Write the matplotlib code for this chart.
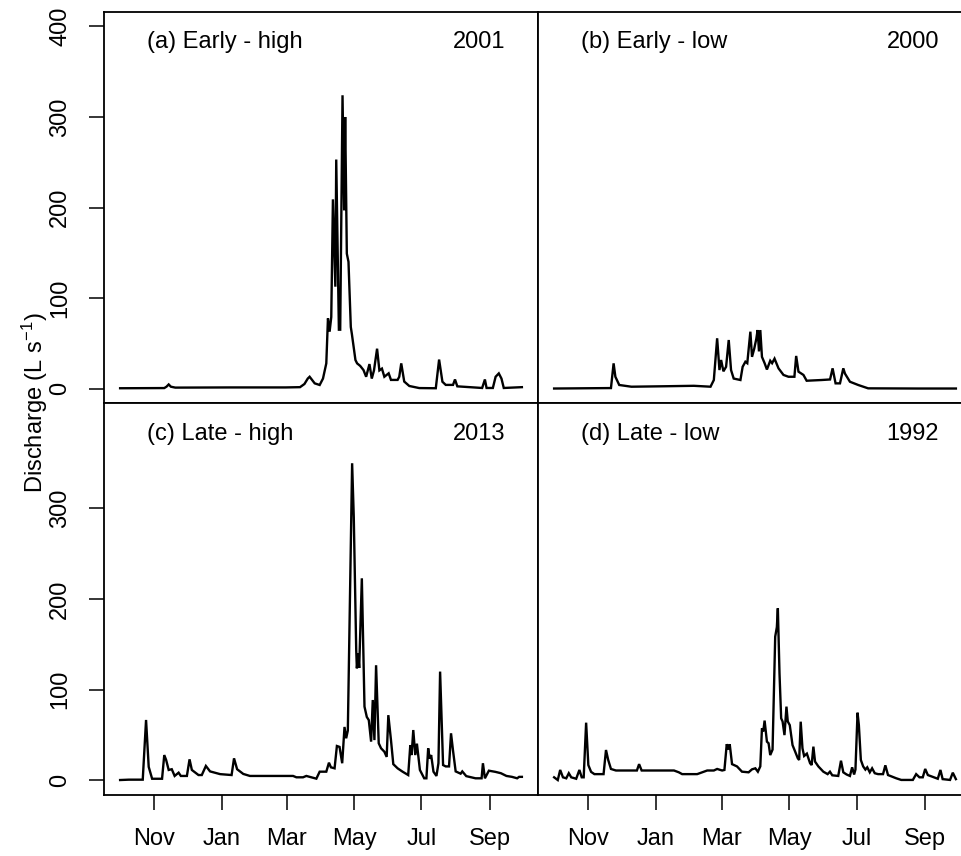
import numpy as np
import matplotlib.pyplot as plt
from datetime import date

plt.rcParams['font.family'] = 'Liberation Sans'
plt.rcParams['mathtext.fontset'] = 'custom'
plt.rcParams['mathtext.rm'] = 'Liberation Sans'
plt.rcParams['mathtext.it'] = 'Liberation Sans'

# daily discharge, x = days since 1 Oct of the water year
days_a = [0, 40, 42, 44, 46, 50, 100, 150, 163, 167, 170, 171.7, 176.3, 180.8, 183.8, 186.8, 188.3, 189.8, 191.3, 192.8,
          195.0, 195.8, 198.2, 199.4, 201.5, 203.0, 203.9, 205.4, 206.9, 209.0, 210.0, 213.2, 214.7, 217.5, 220.5, 222.9,
          225.9, 228.0, 230.0, 232.8, 234.9, 237.2, 239.4, 243.3, 245.4, 251.4, 252.9, 254.7, 257.4, 262.0, 271.0, 286.0,
          289.0, 292.0, 295.0, 301.6, 303.4, 305.5, 328.0, 330.5, 332.0, 337.7, 340.2, 343.1, 345.5, 347.6, 364]
q_a = [0.3, 0.5, 2, 4.5, 2, 1, 1.2, 1.2, 1.5, 5, 11, 13, 5.7, 3.9, 11, 27.8, 77.5, 62.8, 79, 209,
       112.5, 253, 65, 65, 324, 197, 300, 149, 140, 68, 60, 31.5, 27.8, 25, 20.4, 13,
       27, 11, 20, 44, 20, 22, 13, 16.8, 9.5, 9.5, 13, 27.8, 7.7, 2.8, 0.5, 0.3,
       32, 7.5, 4, 4, 10, 2.4, 0.6, 10, 0.6, 0.6, 13, 16.7, 11, 0.6, 1.5]

days_b = [0, 51.5, 53.9, 55.5, 59, 70, 100, 126.6, 141.7, 144.7, 147.7, 149.8, 151.3, 153.4, 155.8, 158.2, 160.3, 162.7,
          168.8, 170.8, 173.3, 175, 177.8, 179.3, 181.3, 183.2, 184.4, 185.6, 186.8, 188.3, 190.7, 192.8, 195.8, 197.5,
          199.7, 203.3, 207.8, 212.3, 217.7, 219.3, 221.4, 225.9, 228.8, 242.4, 250, 252.3, 255, 259, 262, 263.5, 268,
          275.5, 284.5, 329.6, 364]
q_b = [0, 0.5, 27.8, 13, 3.9, 2, 2.5, 3, 2, 9.4, 55.5, 20.4, 31.5, 19, 24, 53.6, 20.4, 11,
       9.4, 24, 29.6, 28, 62.8, 35, 44, 55, 64.6, 41, 64.6, 35, 28, 21, 30.7, 28,
       33, 22.3, 15, 13, 13, 36, 18.6, 15, 8.6, 9.4, 10, 22.3, 5.7, 5.7, 22.3, 16.5, 7.5,
       3.9, 0.2, 0, 0]

days_c = [0, 7.9, 20.5, 23.5, 25.9, 29, 38, 40, 41.7, 44, 46.8, 49.4, 53, 55, 60.5, 62.9, 65, 71, 74, 77.7,
          81.5, 90.6, 101, 103.2, 106, 111.6, 117.6, 156.7, 159.7, 165.7, 168.7, 177.8, 180.8, 186.8, 189.2, 191,
          194.3, 196.4, 198.8, 201.2, 203.3, 204.8, 206.3, 210.2, 211.7, 213.9, 214.5, 215.7, 216.6, 219,
          221.4, 223.5, 225.3, 227.4, 228.9, 230.4, 231.9, 234.3, 236.4, 239.4, 241.5, 243, 245.4, 247.5, 251.4,
          255.9, 261, 262.9, 264.1, 265.6, 267.4, 268.9, 271.6, 275.5, 277.5, 279.1, 280.4, 281.8, 283.9, 286.6,
          288.4, 289.9, 292.6, 295, 298, 299.8, 301.6, 304, 308.5, 310, 313.6, 322, 327.5, 328.7, 330.5, 334.1,
          340, 345, 350, 355, 359.7, 361.5, 364]
q_c = [0.5, 0.9, 0.9, 66.7, 15, 1.9, 1.9, 28, 22.6, 11.6, 12.4, 5, 8.6, 5, 5, 23.3, 11.6, 6, 6, 16,
       10, 7, 6, 24.4, 12.4, 7.2, 5, 5, 3.5, 3.5, 5, 2, 9.7, 9.7, 19.6, 14.5,
       13.4, 38, 37, 19, 59, 46.5, 55, 349.6, 290, 144, 123.6, 140, 124, 222.8,
       81.4, 70, 66.5, 42.8, 88.7, 44.5, 127, 41, 35.5, 31.7, 26, 72, 44.5, 18, 13.4,
       9.7, 6, 39, 28, 55.6, 28, 40.6, 11.6, 2.4, 2.4, 35.5, 24, 28, 9.7, 5,
       19, 120, 17, 15.5, 15.5, 52, 33, 10, 7.5, 10, 4.8, 2.4, 2.4, 19, 2.4, 10.8,
       9.5, 8, 5, 4, 2.4, 4, 4]

days_d = [0, 3.3, 5.5, 8, 11, 13.3, 15.5, 20, 22.9, 25, 26.8, 29, 31, 33.5, 36.5, 44.8, 47, 49, 51.5, 56,
          75, 77, 79.3, 108.6, 113, 116, 129.6, 138.7, 144.7, 147.7, 152.2, 154.3, 156.4, 158, 159.1, 161.2,
          165.7, 170.2, 176.2, 179.3, 182.3, 184.6, 186.8, 188.3, 189.5, 190.7, 192.8, 194.3, 195.8, 197.9,
          200.3, 201.8, 202.7, 204.2, 205.7, 207, 208.7, 210.5, 211.7, 213.5, 216, 217.8, 220.8, 222, 223.4,
          225, 226.5, 229, 231.9, 233.3, 234.9, 236.4, 239.4, 243.9, 247.8, 249.9, 252, 257.4, 259.9, 262,
          265, 268, 270, 271.8, 273, 274.9, 276.1, 277.9, 280, 282, 283.7, 286, 288.1, 290.5, 293.5, 298,
          300.1, 302.5, 310, 314.5, 325, 328, 331, 334, 336.2, 338.6, 347.6, 350, 352, 358.7, 361.2, 364]
q_d = [3.5, 0.5, 11.6, 3.5, 2.4, 8, 3.5, 1.9, 11.6, 3.5, 3.5, 63.7, 17, 9.5, 7, 7, 33.6, 22.6, 12.7, 11,
       11, 18, 11, 11, 9, 7, 7, 11, 11, 12.7, 11, 11.6, 40, 34, 40, 18,
       15.5, 9.7, 9, 12.3, 13.4, 9.7, 15.5, 57.5, 54, 66, 42.8, 41, 28, 34,
       158.5, 169, 189.8, 118, 68.5, 65, 50, 81.4, 65, 61, 39, 33.6, 24.4, 22.6, 64.8,
       35.5, 27, 29.6, 19, 17, 37.3, 20.8, 15.5, 9.7, 7, 9.7, 5.7, 5, 21.8, 9,
       6.6, 5, 14.5, 6.6, 12, 74.7, 61, 22.6, 15.5, 12, 14.5, 9, 13.4, 8, 7, 7,
       16.7, 6, 2.4, 0.6, 0.6, 7, 3.5, 3.5, 12.7, 6, 1.9, 11.6, 1.5, 0.6, 8.6, 1.5]

titles = ['(a) Early - high', '(b) Early - low', '(c) Late - high', '(d) Late - low']
years = [2001, 2000, 2013, 1992]
month_ticks = [(11, 'Nov'), (1, 'Jan'), (3, 'Mar'), (5, 'May'), (7, 'Jul'), (9, 'Sep')]

FS = 17
W, H = 962, 856
fig = plt.figure(figsize=(W / 100, H / 100), dpi=100)


def add_panel(x0, y0, x1, y1):
    # box given in pixels from the top-left corner
    return fig.add_axes([x0 / W, 1 - y1 / H, (x1 - x0) / W, (y1 - y0) / H])


boxes = [(104, 12, 538, 403), (538, 12, 972, 403), (104, 403, 538, 795), (538, 403, 972, 795)]
series = [(days_a, q_a), (days_b, q_b), (days_c, q_c), (days_d, q_d)]

for i, (box, (d, q)) in enumerate(zip(boxes, series)):
    ax = add_panel(*box)
    ax.plot(d, q, color='black', lw=1.7, solid_joinstyle='miter')
    ax.set_xlim(-14.6, 378.6)
    ax.set_ylim(-16, 416)
    for s in ax.spines.values():
        s.set_linewidth(1.3)
    ax.tick_params(direction='out', length=10.5, width=1.1, labelsize=FS, pad=13)

    yr = years[i]
    start = date(yr - 1, 10, 1)
    if i >= 2:
        pos = [(date(yr - 1 if m > 9 else yr, m, 1) - start).days for m, _ in month_ticks]
        ax.set_xticks(pos)
        ax.set_xticklabels([lab for _, lab in month_ticks])
    else:
        ax.set_xticks([])
    if i % 2 == 0:
        ax.set_yticks([0, 100, 200, 300, 400] if i == 0 else [0, 100, 200, 300])
        ax.tick_params(axis='y', labelrotation=90)
        for lbl in ax.get_yticklabels():
            lbl.set_va('center')
    else:
        ax.set_yticks([])

    ax.text(0.1, 0.922, titles[i], transform=ax.transAxes, ha='left', va='center', fontsize=FS)
    ax.text(0.924, 0.922, str(yr), transform=ax.transAxes, ha='right', va='center', fontsize=FS)

fig.text(35 / W, 1 - 403 / H, r'Discharge (L s$^{-1}$)', rotation=90, ha='center', va='center', fontsize=FS)

fig.savefig('out.png', dpi=100)
